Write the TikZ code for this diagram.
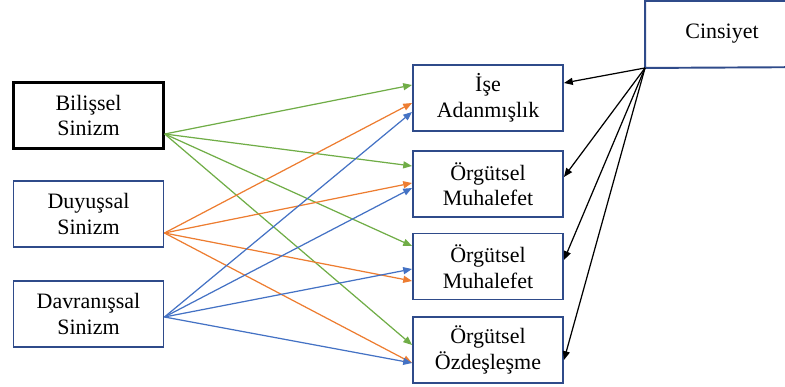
\documentclass[tikz,border=0pt]{standalone}
\usepackage{fontspec}
\setmainfont{Liberation Serif}
\usepackage[HTML]{xcolor}
\usepackage{tikz}
\usetikzlibrary{positioning, arrows.meta}

\definecolor{boxblue}{HTML}{2F4B8A}
\definecolor{cgreen}{HTML}{70AD47}
\definecolor{corange}{HTML}{ED7D31}
\definecolor{cblue}{HTML}{4472C4}

\tikzset{
  var/.style={draw=boxblue, line width=1.1pt, minimum width=3cm, minimum height=1.32cm,
    align=center, font=\fontsize{12.5}{14.5}\selectfont},
  rel/.style={line width=0.7pt, -{Triangle[length=5pt,width=4pt]}},
}

\begin{document}
\begin{tikzpicture}
\useasboundingbox (0,0) rectangle (15.7,-7.74);
% moderator (box runs off the right edge)
\node[var, draw=none, minimum width=3.04cm] (cin) at (14.44,-0.68) {Cinsiyet};
\draw[boxblue, line width=1.1pt] (16.5,-0.02) -| (cin.south west) -- (16.5,-1.34);
% independent variables
\node[var, draw=black, line width=1.4pt] (bil) at (1.77,-2.31) {Bilişsel\\Sinizm};
\node[var] (duy) at (1.77,-4.28) {Duyuşsal\\Sinizm};
\node[var] (dav) at (1.77,-6.28) {Davranışsal\\Sinizm};
% dependent variables
\node[var] (ise)  at (9.76,-1.96) {İşe\\Adanmışlık};
\node[var] (muh1) at (9.76,-3.68) {Örgütsel\\Muhalefet};
\node[var] (muh2) at (9.76,-5.33) {Örgütsel\\Muhalefet};
\node[var] (ozd)  at (9.76,-7.00) {Örgütsel\\Özdeşleşme};

% relations
\draw[rel, cgreen] ([yshift=-0.37cm]bil.east) -- ([yshift=0.26cm]ise.west);
\draw[rel, cgreen] ([yshift=-0.37cm]bil.east) -- ([yshift=0.36cm]muh1.west);
\draw[rel, cgreen] ([yshift=-0.37cm]bil.east) -- ([yshift=0.41cm]muh2.west);
\draw[rel, cgreen] ([yshift=-0.37cm]bil.east) -- ([yshift=0.10cm]ozd.west);
\draw[rel, corange] ([yshift=-0.38cm]duy.east) -- ([yshift=-0.10cm]ise.west);
\draw[rel, corange] ([yshift=-0.38cm]duy.east) -- ([yshift=0.02cm]muh1.west);
\draw[rel, corange] ([yshift=-0.38cm]duy.east) -- ([yshift=-0.29cm]muh2.west);
\draw[rel, corange] ([yshift=-0.38cm]duy.east) -- ([yshift=-0.26cm]ozd.west);
\draw[rel, cblue] ([yshift=-0.06cm]dav.east) -- ([yshift=-0.28cm]ise.west);
\draw[rel, cblue] ([yshift=-0.06cm]dav.east) -- ([yshift=-0.08cm]muh1.west);
\draw[rel, cblue] ([yshift=-0.06cm]dav.east) -- ([yshift=-0.05cm]muh2.west);
\draw[rel, cblue] ([yshift=-0.06cm]dav.east) -- ([yshift=-0.26cm]ozd.west);
\draw[rel] (cin.south west) -- ([yshift=0.30cm]ise.east);
\draw[rel] (cin.south west) -- ([yshift=0.14cm]muh1.east);
\draw[rel] (cin.south west) -- ([yshift=0.13cm]muh2.east);
\draw[rel] (cin.south west) -- ([yshift=-0.20cm]ozd.east);
\end{tikzpicture}
\end{document}
